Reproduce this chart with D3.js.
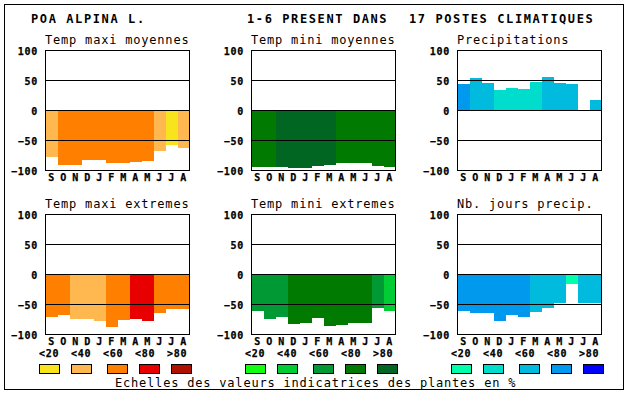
<!DOCTYPE html>
<html lang="fr">
	<head>
		<meta charset="utf-8">
		<title>D3: Poa alpina</title>
		<script type="text/javascript" src="https://cdn.jsdelivr.net/npm/d3@7"></script>
		<style type="text/css">
		body { margin: 0; background: #fff; }
		text { font-family: "DejaVu Sans Mono", monospace; fill: #000; }
		.title { font-size: 12px; font-weight: bold; letter-spacing: 1.6px; }
		.sub { font-size: 12px; letter-spacing: 0.8px; }
		.small { font-size: 10px; font-weight: bold; letter-spacing: 0.7px; stroke: #000; stroke-width: 0.25px; }
		.bar, .grid, .frame, .swatch { shape-rendering: crispEdges; }
		</style>
	</head>
	<body>
		<script type="text/javascript">

		//Width and height
		var w = 630;
		var h = 394;

		var months = ["S", "O", "N", "D", "J", "F", "M", "A", "M", "J", "J", "A"];
		var ticks = [100, 50, 0, -50, -100];
		var legendLabels = ["<20", "<40", "<60", "<80", ">80"];

		var orangeScale = ["#F8E41C", "#FFB84F", "#FF8000", "#E80000", "#B01000"];
		var greenScale = ["#11FF11", "#00CC33", "#009933", "#007A00", "#006622"];
		var blueScale = ["#00FFAA", "#00DDCC", "#00BBDD", "#0099EE", "#0000FF"];

		//values (%) and class index into the colour scale
		var tmaxMoy = [-77, -91, -91, -83, -83, -87, -87, -85, -84, -67, -58, -62];
		var tmaxMoyClass = [1, 2, 2, 2, 2, 2, 2, 2, 2, 1, 0, 1];

		var tminMoy = [-94, -94, -94, -96, -95, -93, -91, -87, -87, -87, -92, -94];
		var tminMoyClass = [3, 3, 4, 4, 4, 4, 4, 3, 3, 3, 3, 3];

		var precip = [44, 54, 46, 34, 37, 36, 47, 56, 46, 44, 0, 17];
		var precipClass = [3, 2, 2, 1, 1, 1, 1, 2, 2, 2, null, 2];

		var tmaxExt = [-71, -68, -74, -74, -77, -87, -76, -74, -77, -64, -58, -58];
		var tmaxExtClass = [2, 2, 1, 1, 1, 2, 2, 3, 3, 2, 2, 2];

		var tminExt = [-60, -74, -71, -82, -81, -72, -85, -84, -81, -81, -56, -60];
		var tminExtClass = [2, 2, 2, 3, 3, 3, 3, 3, 3, 3, 2, 1];

		var nbJours = [-60, -64, -64, -77, -67, -70, -62, -55, -47, -15, -47, -47];
		var nbJoursClass = [3, 3, 3, 3, 3, 3, 2, 2, 2, 0, 2, 2];

		var panels = [
			{ title: "Temp maxi moyennes", values: tmaxMoy, cls: tmaxMoyClass, colors: orangeScale, col: 0, row: 0 },
			{ title: "Temp mini moyennes", values: tminMoy, cls: tminMoyClass, colors: greenScale, col: 1, row: 0 },
			{ title: "Precipitations", values: precip, cls: precipClass, colors: blueScale, col: 2, row: 0 },
			{ title: "Temp maxi extremes", values: tmaxExt, cls: tmaxExtClass, colors: orangeScale, col: 0, row: 1 },
			{ title: "Temp mini extremes", values: tminExt, cls: tminExtClass, colors: greenScale, col: 1, row: 1 },
			{ title: "Nb. jours precip.", values: nbJours, cls: nbJoursClass, colors: blueScale, col: 2, row: 1 }
		];

		var colX = [45.5, 251.5, 457.5];
		var rowY = [50.5, 214.5];
		var pw = 144, ph = 120;
		var swatchOffsets = [-6, 26, 62, 94, 126];

		var svg = d3.select("body")
						.append("svg")
						.attr("width", w)
						.attr("height", h);

		//outer border
		svg.append("rect")
			.attr("class", "frame")
			.attr("x", 4.5).attr("y", 4.5)
			.attr("width", 619).attr("height", 385)
			.attr("fill", "none").attr("stroke", "#000");

		svg.append("text").attr("class", "title").attr("x", 31).attr("y", 23).text("POA ALPINA L.");
		svg.append("text").attr("class", "title").attr("x", 247).attr("y", 23).text("1-6 PRESENT DANS");
		svg.append("text").attr("class", "title").attr("x", 409).attr("y", 23).text("17 POSTES CLIMATIQUES");

		panels.forEach(function(p) {
			var x0 = colX[p.col], y0 = rowY[p.row];

			var x = d3.scaleBand()
				.domain(d3.range(months.length))
				.range([x0, x0 + pw]);

			var y = d3.scaleLinear()
				.domain([-100, 100])
				.range([y0 + ph, y0]);

			//month index, value and class together, skipping empty months
			var bars = p.values.map(function(v, i) {
				return { i: i, v: v, c: p.cls[i] };
			}).filter(function(d) { return d.c !== null; });

			var g = svg.append("g");

			g.append("text").attr("class", "sub")
				.attr("x", x0 - 0.5).attr("y", y0 - 7)
				.text(p.title);

			g.append("rect").attr("x", x0).attr("y", y0)
				.attr("width", pw).attr("height", ph).attr("fill", "#fff");

			g.selectAll("rect.bar")
				.data(bars)
				.enter()
				.append("rect")
				.attr("class", "bar")
				.attr("x", function(d) { return x(d.i); })
				.attr("width", x.bandwidth())
				.attr("y", function(d) { return y(Math.max(0, d.v)); })
				.attr("height", function(d) { return Math.abs(y(d.v) - y(0)); })
				.attr("fill", function(d) { return p.colors[d.c]; });

			//horizontal lines at 50, 0, -50
			g.selectAll("line.grid")
				.data([50, 0, -50])
				.enter()
				.append("line")
				.attr("class", "grid")
				.attr("x1", x0).attr("x2", x0 + pw)
				.attr("y1", function(d) { return y(d); })
				.attr("y2", function(d) { return y(d); })
				.attr("stroke", "#000");

			g.append("rect").attr("class", "frame")
				.attr("x", x0).attr("y", y0)
				.attr("width", pw).attr("height", ph)
				.attr("fill", "none").attr("stroke", "#000");

			//y axis labels
			var yAxis = d3.axisLeft(y).tickValues(ticks).tickSize(0).tickPadding(7.5);
			var ya = g.append("g").attr("transform", "translate(" + x0 + ",0)").call(yAxis);
			ya.select(".domain").remove();
			ya.selectAll("text").attr("class", "small").attr("dy", "0.36em");
			ya.attr("font-family", null).attr("font-size", null);

			//months
			var xAxis = d3.axisBottom(x).tickFormat(function(i) { return months[i]; }).tickSize(0).tickPadding(0);
			var xa = g.append("g").attr("transform", "translate(0," + (y0 + ph) + ")").call(xAxis);
			xa.select(".domain").remove();
			xa.selectAll("text").attr("class", "small").attr("dy", null).attr("y", 10);
			xa.attr("font-family", null).attr("font-size", null);

			//legend under bottom row
			if (p.row == 1) {
				g.selectAll("text.leg")
					.data(legendLabels)
					.enter()
					.append("text")
					.attr("class", "small")
					.attr("x", function(d, i) { return x0 - 6.5 + i * 32; })
					.attr("y", 357)
					.text(function(d) { return d; });

				g.selectAll("rect.swatch")
					.data(p.colors)
					.enter()
					.append("rect")
					.attr("class", "swatch")
					.attr("x", function(d, i) { return x0 + swatchOffsets[i]; })
					.attr("y", 364.5)
					.attr("width", 20).attr("height", 9)
					.attr("fill", function(d) { return d; })
					.attr("stroke", "#000");
			}
		});

		svg.append("text").attr("class", "sub").attr("x", 115).attr("y", 387)
			.text("Echelles des valeurs indicatrices des plantes en %");

		</script>
	</body>
</html>
